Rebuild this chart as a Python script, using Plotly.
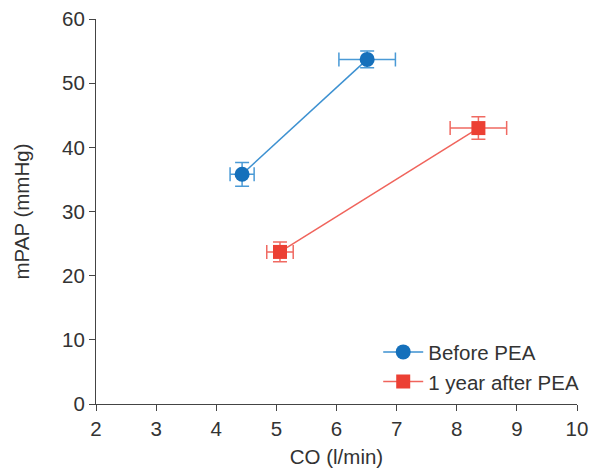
import plotly.graph_objects as go

series_names = ["Before PEA", "1 year after PEA"]
co_before = [4.43, 6.51]
co_before_err = [0.20, 0.47]
mpap_before = [35.8, 53.7]
mpap_before_err = [1.85, 1.3]
co_after = [5.06, 8.36]
co_after_err = [0.22, 0.47]
mpap_after = [23.7, 43.0]
mpap_after_err = [1.55, 1.75]
x_ticks = [2, 3, 4, 5, 6, 7, 8, 9, 10]
y_ticks = [0, 10, 20, 30, 40, 50, 60]

FONT = "Liberation Sans, Arial"
FS = 20.5

fig = go.Figure()
fig.add_trace(go.Scatter(
    x=co_before, y=mpap_before, name=series_names[0], mode="lines+markers",
    line=dict(color="#3d91d1", width=1.5),
    marker=dict(symbol="circle", size=15, color="#1570bb"),
    error_x=dict(type="data", array=co_before_err, color="#4a9ad6", thickness=1.5, width=7),
    error_y=dict(type="data", array=mpap_before_err, color="#4a9ad6", thickness=1.5, width=7),
))
fig.add_trace(go.Scatter(
    x=co_after, y=mpap_after, name=series_names[1], mode="lines+markers",
    line=dict(color="#f0645c", width=1.5),
    marker=dict(symbol="square", size=14, color="#ec4034"),
    error_x=dict(type="data", array=co_after_err, color="#f06a62", thickness=1.5, width=7),
    error_y=dict(type="data", array=mpap_after_err, color="#f06a62", thickness=1.5, width=7),
))

axis_common = dict(
    showgrid=False, zeroline=False, showline=True, linecolor="#444", linewidth=1,
    ticks="outside", ticklen=6, tickcolor="#444", automargin=False,
    tickfont=dict(size=FS, color="#333", family=FONT),
)
fig.update_xaxes(range=[2, 10], tickvals=x_ticks,
                 title=dict(text="CO (l/min)", font=dict(size=FS, color="#333", family=FONT), standoff=11),
                 **axis_common)
fig.update_yaxes(range=[0, 60], tickvals=y_ticks,
                 title=dict(text="mPAP (mmHg)", font=dict(size=FS, color="#333", family=FONT), standoff=26),
                 **axis_common)
fig.update_layout(
    width=591, height=472,
    margin=dict(l=96, r=14, t=19, b=68, autoexpand=False),
    plot_bgcolor="white", paper_bgcolor="white",
    font=dict(family=FONT, color="#333"),
    legend=dict(x=1.015, y=0.005, xanchor="right", yanchor="bottom",
                font=dict(size=FS, color="#333", family=FONT), bgcolor="rgba(0,0,0,0)",
                itemwidth=40, tracegroupgap=0),
)
fig.write_html("out.html")
